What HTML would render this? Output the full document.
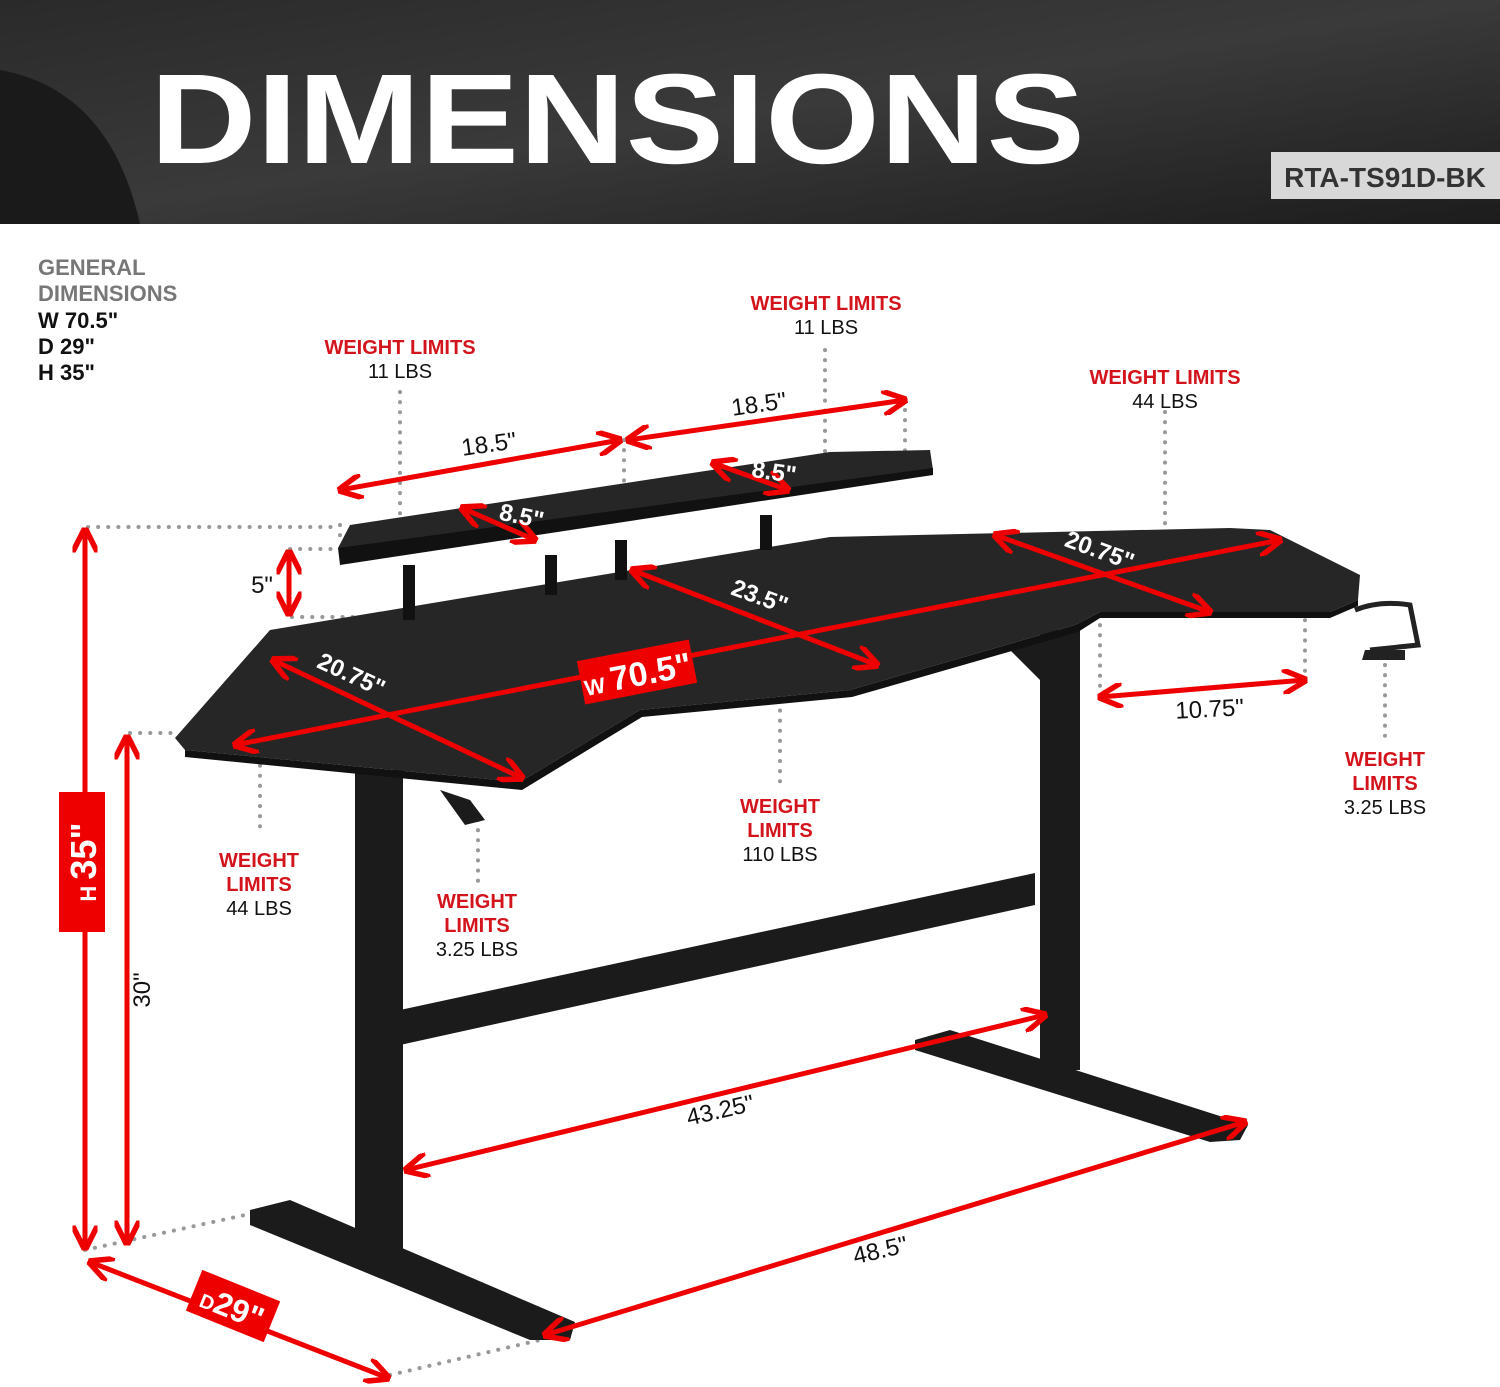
<!DOCTYPE html>
<html><head><meta charset="utf-8"><style>
html,body{margin:0;padding:0;background:#fff;}
svg{display:block;font-family:"Liberation Sans",sans-serif;}
</style></head><body>
<svg width="1500" height="1387" viewBox="0 0 1500 1387" xmlns="http://www.w3.org/2000/svg">
<defs>
<linearGradient id="hd" x1="0" y1="0" x2="1" y2="1">
<stop offset="0" stop-color="#2a2a2a"/><stop offset="0.5" stop-color="#3a3a3a"/><stop offset="1" stop-color="#1c1c1c"/></linearGradient>
<marker id="ar" viewBox="0 0 10 10" refX="9" refY="5" markerWidth="5" markerHeight="5" orient="auto-start-reverse"><path d="M0,0 L10,5 L0,10" fill="none" stroke="#e00" stroke-width="2.2"/></marker>
</defs>
<rect x="0" y="0" width="1500" height="224" fill="url(#hd)"/>
<path d="M0,70 Q110,90 140,224 L0,224 Z" fill="#1a1a1a"/>
<text x="150" y="163" font-size="128" font-weight="bold" fill="#fff" textLength="935" lengthAdjust="spacingAndGlyphs">DIMENSIONS</text>
<rect x="1271" y="152" width="229" height="47" fill="#d8d8d8"/>
<text x="1385" y="187" font-size="28" font-weight="bold" fill="#333" text-anchor="middle">RTA-TS91D-BK</text>

<g font-size="22" font-weight="bold" fill="#777">
<text x="38" y="275">GENERAL</text><text x="38" y="301">DIMENSIONS</text></g>
<g font-size="22" font-weight="bold" fill="#111">
<text x="38" y="328">W  70.5"</text><text x="38" y="354">D  29"</text><text x="38" y="380">H  35"</text></g>

<g stroke="#999" stroke-width="4" stroke-dasharray="0.1 10" stroke-linecap="round" fill="none">
<path d="M88,527 H340"/><path d="M290,549 H338"/><path d="M292,617 H380"/><path d="M130,733 H178"/>
<path d="M400,392 V530"/><path d="M825,350 V455"/><path d="M624,440 V505"/><path d="M905,410 V455"/>
<path d="M1165,412 V545"/><path d="M340,525 V545"/>
<path d="M260,705 V835"/><path d="M478,820 V885"/><path d="M780,660 V790"/>
<path d="M1100,615 V695"/><path d="M1305,600 V680"/><path d="M1385,665 V740"/>
<path d="M85,1250 L245,1215"/><path d="M390,1375 L540,1340"/>
</g>

<g fill="#1b1b1b">
<rect x="355" y="770" width="48" height="490"/>
<polygon points="250,1210 290,1200 575,1322 570,1340 530,1340 250,1225"/>
<rect x="1040" y="630" width="40" height="440"/>
<polygon points="915,1040 950,1030 1248,1125 1240,1140 1210,1142 915,1050"/>
<polygon points="400,1010 1035,873 1035,905 400,1045"/>
<polygon points="1010,650 1040,640 1060,665 1040,680"/>
<polygon points="440,790 470,800 485,820 465,825"/>
</g>
<polygon points="270,630 830,537 1230,528 1270,530 1360,575 1358,600 1330,612 1100,612 1075,625 850,690 640,710 520,782 185,750 175,738" fill="#262626"/>
<polygon points="185,750 520,782 640,710 850,690 1075,625 1100,612 1330,612 1358,600 1358,606 1330,618 1100,618 1078,632 852,697 642,717 522,790 185,757" fill="#111"/>
<g fill="#111"><rect x="403" y="565" width="12" height="55"/><rect x="545" y="555" width="12" height="40"/><rect x="615" y="540" width="12" height="40"/><rect x="760" y="515" width="12" height="35"/></g>
<polygon points="350,525 830,452 930,450 933,470 345,560 338,548" fill="#262626"/>
<polygon points="338,548 933,468 933,475 340,565" fill="#111"/>
<path d="M1355,610 Q1380,600 1410,605 L1418,645 L1370,650" fill="none" stroke="#222" stroke-width="5"/>
<polygon points="1365,650 1405,650 1405,660 1362,660" fill="#222"/>

<g stroke="#e00" stroke-width="5" fill="none" marker-start="url(#ar)" marker-end="url(#ar)">
<path d="M85,530 V1248"/><path d="M127,737 V1243"/><path d="M289,552 V614"/>
<path d="M340,490 L620,440"/><path d="M628,440 L905,400"/>
<path d="M462,508 L535,540"/><path d="M713,463 L788,490"/>
<path d="M235,745 L1280,540"/><path d="M273,660 L522,778"/>
<path d="M632,570 L877,665"/><path d="M995,535 L1210,612"/>
<path d="M1100,697 L1305,680"/>
<path d="M406,1170 L1045,1015"/><path d="M545,1335 L1245,1122"/>
<path d="M90,1262 L388,1378"/>
</g>
<g transform="translate(637,672) rotate(-11)"><rect x="-57" y="-22" width="114" height="44" fill="#e00"/><text x="0" y="14" font-size="34" font-weight="bold" fill="#fff" text-anchor="middle"><tspan font-size="22">W </tspan>70.5"</text></g>
<g transform="translate(82,862) rotate(-90)"><rect x="-70" y="-23" width="140" height="46" fill="#e00"/><text x="0" y="14" font-size="36" font-weight="bold" fill="#fff" text-anchor="middle"><tspan font-size="22">H </tspan>35"</text></g>
<g transform="translate(233,1306) rotate(22)"><rect x="-42" y="-22" width="84" height="44" fill="#e00"/><text x="0" y="13" font-size="32" font-weight="bold" fill="#fff" text-anchor="middle"><tspan font-size="20">D</tspan>29"</text></g>

<g font-size="24" fill="#111" text-anchor="middle">
<text transform="translate(490,452) rotate(-8)">18.5"</text>
<text transform="translate(760,412) rotate(-8)">18.5"</text>
<text x="262" y="593">5"</text>
<text transform="translate(150,990) rotate(-90)">30"</text>
<text transform="translate(1210,717) rotate(-3)">10.75"</text>
<text transform="translate(722,1118) rotate(-13)">43.25"</text>
<text transform="translate(882,1258) rotate(-13)">48.5"</text>
</g>
<g font-size="24" font-weight="bold" fill="#fff" text-anchor="middle">
<text transform="translate(520,524) rotate(12)">8.5"</text>
<text transform="translate(773,480) rotate(8)">8.5"</text>
<text transform="translate(348,682) rotate(25)">20.75"</text>
<text transform="translate(757,604) rotate(20)">23.5"</text>
<text transform="translate(1097,558) rotate(20)">20.75"</text>
</g>
<g font-size="20" text-anchor="middle">
<text x="400" y="354" fill="#d4141c" font-weight="bold">WEIGHT LIMITS</text><text x="400" y="378" fill="#111">11 LBS</text>
<text x="826" y="310" fill="#d4141c" font-weight="bold">WEIGHT LIMITS</text><text x="826" y="334" fill="#111">11 LBS</text>
<text x="1165" y="384" fill="#d4141c" font-weight="bold">WEIGHT LIMITS</text><text x="1165" y="408" fill="#111">44 LBS</text>
<text x="1385" y="766" fill="#d4141c" font-weight="bold">WEIGHT</text><text x="1385" y="790" fill="#d4141c" font-weight="bold">LIMITS</text><text x="1385" y="814" fill="#111">3.25 LBS</text>
<text x="780" y="813" fill="#d4141c" font-weight="bold">WEIGHT</text><text x="780" y="837" fill="#d4141c" font-weight="bold">LIMITS</text><text x="780" y="861" fill="#111">110 LBS</text>
<text x="259" y="867" fill="#d4141c" font-weight="bold">WEIGHT</text><text x="259" y="891" fill="#d4141c" font-weight="bold">LIMITS</text><text x="259" y="915" fill="#111">44 LBS</text>
<text x="477" y="908" fill="#d4141c" font-weight="bold">WEIGHT</text><text x="477" y="932" fill="#d4141c" font-weight="bold">LIMITS</text><text x="477" y="956" fill="#111">3.25 LBS</text>
</g>
</svg>
</body></html>
